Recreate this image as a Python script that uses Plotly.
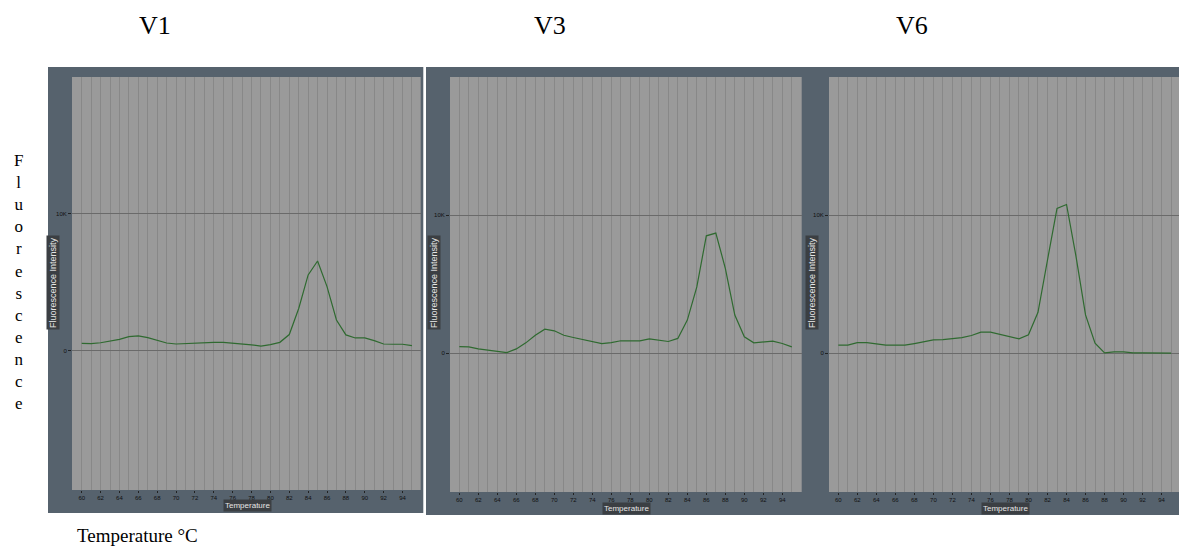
import plotly.graph_objects as go

W, H = 1179, 548

temps = list(range(60, 96))
v1 = [560, 540, 600, 700, 850, 1050, 1100, 970, 750, 580, 510, 540, 580, 630, 630, 630, 580, 540,
      440, 360, 460, 630, 1200, 3100, 5550, 6570, 4700, 2260, 1170, 950, 950, 750, 510, 490, 490, 390]
v3 = [480, 460, 310, 220, 100, 50, 310, 750, 1300, 1740, 1620, 1300, 1140, 990, 800, 700, 770, 900,
      900, 900, 1040, 970, 850, 1070, 2400, 4800, 8500, 8700, 6150, 2760, 1190, 750, 820, 870, 700, 460]
v6 = [580, 580, 770, 770, 670, 580, 580, 580, 700, 840, 960, 990, 1080, 1130, 1280, 1520, 1520, 1370,
      1200, 1040, 1330, 2960, 6750, 10480, 10770, 7000, 2770, 720, 20, 100, 100, 20, 20, 0, 0, 0]
panel_titles = ["V1", "V3", "V6"]
x_tickvals = list(range(60, 95, 2))
y_tickvals = [0, 10000]
y_ticktext = ["0", "10K"]

series = [v1, v3, v6]

# layout geometry in pixels
plot_px = [  # (x0, x1, ytop, ybottom)
    (72, 420.7, 77, 490),
    (450, 801.7, 77, 492),
    (829, 1179, 77, 492),
]
xranges = [[58.97, 95.93], [59.02, 96.04], [59.02, 95.83]]
yranges = [[-10150, 20000], [-10050, 20000], [-10050, 20000]]
dark_px = [(48, 423.3, 67, 513), (426, 805, 67, 515), (805, 1179, 67, 515)]
title_x = [155, 550, 912]
yl_pill_x = [53, 434, 812]
temp_pill_x = [247, 626, 1005]
temp_pill_y = [505.5, 508.5, 508.5]

DARK = "#56626d"
PLOTBG = "#9a9a9a"
GRID = "#888888"
HLINE = "#6a6a6a"
LINE = "#2f6a30"
PILL = "#3b3f43"

fig = go.Figure()
layout = dict(
    width=W, height=H, autosize=False,
    margin=dict(l=0, r=0, t=0, b=0),
    paper_bgcolor="white", plot_bgcolor=PLOTBG,
    showlegend=False, shapes=[], annotations=[],
)

for i, (vals, name) in enumerate(zip(series, panel_titles)):
    sfx = "" if i == 0 else str(i + 1)
    fig.add_trace(go.Scatter(x=temps, y=vals, mode="lines", line=dict(color=LINE, width=1.2),
                             xaxis="x" + sfx, yaxis="y" + sfx, name=name, hoverinfo="skip"))
    x0, x1, yt, yb = plot_px[i]
    layout["xaxis" + sfx] = dict(
        domain=[x0 / W, min(x1 / W, 1.0)], range=xranges[i], anchor="y" + sfx,
        tickvals=x_tickvals, ticks="outside", ticklen=2, tickcolor="#222",
        tickfont=dict(family="Liberation Sans", size=6, color="#111"),
        showgrid=True, gridcolor=GRID, gridwidth=1, zeroline=False, showline=False,
        minor=dict(dtick=1, tick0=60, showgrid=True, gridcolor=GRID, gridwidth=1, ticks=""),
        fixedrange=True,
    )
    layout["yaxis" + sfx] = dict(
        domain=[1 - yb / H, 1 - yt / H], range=yranges[i], anchor="x" + sfx,
        tickvals=y_tickvals, ticktext=y_ticktext, ticks="outside", ticklen=3, tickcolor="#222",
        tickfont=dict(family="Liberation Sans", size=6, color="#111"),
        showgrid=True, gridcolor=HLINE, gridwidth=1, zeroline=False, showline=False,
        fixedrange=True,
    )
    dx0, dx1, dyt, dyb = dark_px[i]
    layout["shapes"].append(dict(type="rect", xref="paper", yref="paper", layer="below",
                                 x0=dx0 / W, x1=dx1 / W, y0=1 - dyb / H, y1=1 - dyt / H,
                                 fillcolor=DARK, line=dict(width=0)))
    layout["annotations"].append(dict(text=name, xref="paper", yref="paper", x=title_x[i] / W,
                                      y=1 - 25 / H, showarrow=False, xanchor="center", yanchor="middle",
                                      font=dict(family="Liberation Serif", size=26, color="black")))
    layout["annotations"].append(dict(text="Fluorescence Intensity", xref="paper", yref="paper",
                                      x=yl_pill_x[i] / W, y=1 - 283 / H, textangle=-90, showarrow=False,
                                      xanchor="center", yanchor="middle", bgcolor=PILL,
                                      borderpad=1, font=dict(family="Liberation Sans", size=9, color="#e6e6e6")))
    layout["annotations"].append(dict(text="Temperature", xref="paper", yref="paper",
                                      x=temp_pill_x[i] / W, y=1 - temp_pill_y[i] / H, showarrow=False,
                                      xanchor="center", yanchor="middle", bgcolor=PILL,
                                      borderpad=1, font=dict(family="Liberation Sans", size=8, color="#e6e6e6")))

# grey plot-area backgrounds drawn above the dark panels
for i in range(3):
    x0, x1, yt, yb = plot_px[i]
    layout["shapes"].append(dict(type="rect", xref="paper", yref="paper", layer="below",
                                 x0=x0 / W, x1=min(x1 / W, 1.0), y0=1 - yb / H, y1=1 - yt / H,
                                 fillcolor=PLOTBG, line=dict(width=0)))

layout["annotations"].append(dict(text="<br>".join(list("Fluorescence")), xref="paper", yref="paper",
                                  x=18 / W, y=1 - 282 / H, showarrow=False, xanchor="center",
                                  yanchor="middle", align="center",
                                  font=dict(family="Liberation Serif", size=17, color="black")))
layout["annotations"].append(dict(text="Temperature °C", xref="paper", yref="paper",
                                  x=75 / W, y=1 - 535 / H, showarrow=False, xanchor="left",
                                  yanchor="middle",
                                  font=dict(family="Liberation Serif", size=19, color="black")))

fig.update_layout(**layout)
fig.write_html("out.html", config={"displayModeBar": False},
               post_script="document.body.style.margin='0px';document.body.style.overflow='hidden';")
